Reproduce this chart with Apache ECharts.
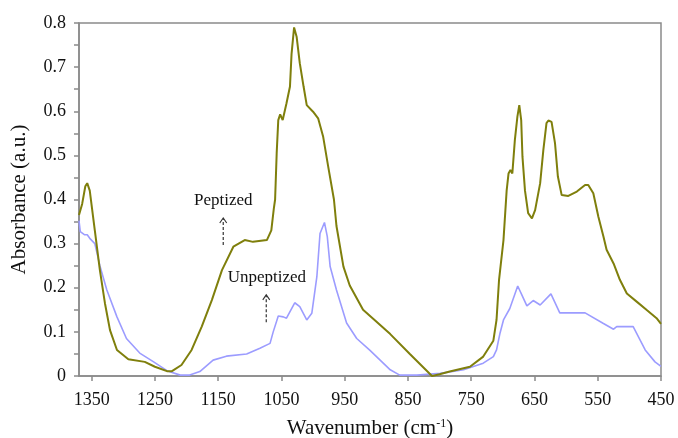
<!DOCTYPE html>
<html>
<head>
<meta charset="utf-8">
<script src="https://cdn.jsdelivr.net/npm/echarts@6/dist/echarts.min.js"></script>
<style>
  html, body { margin: 0; padding: 0; background: #fff; }
  #chart { width: 678px; height: 438px; }
</style>
</head>
<body>
<div id="chart"></div>
<script>
// FTIR absorbance spectra, wavenumber (cm-1) vs absorbance
const peptizedWn = [1370, 1365, 1360, 1357, 1353, 1345, 1337, 1329, 1321, 1310, 1292, 1266, 1250, 1231, 1223,
  1208, 1192, 1176, 1160, 1144, 1126, 1108, 1095, 1073, 1066, 1062, 1060, 1057.5, 1055, 1052, 1048, 1042,
  1036.5, 1034, 1030, 1026, 1021, 1015, 1010, 1000, 992, 984, 976, 967, 963, 952, 942, 921, 905, 878, 847,
  812, 800, 784, 752, 731, 715, 710, 706, 699, 694, 691, 688, 685, 681, 677, 674, 671, 669, 665, 660, 654,
  649, 641, 636, 631, 628, 623, 617.5, 613, 607, 596.5, 583, 570, 565, 557, 549, 541, 536, 525, 515, 504,
  488, 473, 457, 450];
const peptizedAbs = [0.365, 0.39, 0.43, 0.437, 0.42, 0.33, 0.24, 0.165, 0.104, 0.059, 0.038, 0.032, 0.021, 0.011, 0.011,
  0.025, 0.059, 0.112, 0.172, 0.24, 0.293, 0.308, 0.304, 0.308, 0.33, 0.38, 0.40, 0.505, 0.58, 0.593, 0.58, 0.618,
  0.656, 0.73, 0.79, 0.769, 0.709, 0.656, 0.614, 0.599, 0.584, 0.542, 0.474, 0.40, 0.34, 0.248, 0.205, 0.15, 0.13, 0.095, 0.05,
  0.0, 0.004, 0.01, 0.021, 0.044, 0.08, 0.127, 0.218, 0.308, 0.42, 0.459, 0.467, 0.459, 0.535, 0.588, 0.614, 0.58, 0.497, 0.42, 0.369, 0.357,
  0.376, 0.437, 0.512, 0.573, 0.579, 0.576, 0.527, 0.452, 0.41, 0.408, 0.418, 0.433, 0.433, 0.414, 0.361, 0.316, 0.286, 0.255, 0.218, 0.187,
  0.168, 0.15, 0.131, 0.118];

const unpeptizedWn = [1370, 1368, 1361, 1357, 1353, 1345, 1337, 1326, 1310, 1295, 1274, 1252, 1231, 1210, 1195,
  1179, 1158, 1137, 1105, 1084, 1068, 1063, 1055, 1047, 1042, 1029, 1021, 1010, 1002, 994, 989, 982, 977.5,
  973, 963, 947, 931, 910, 894, 878, 863, 836, 799, 762, 731, 715, 710, 704.5, 699, 689, 676.5, 670, 662,
  652, 641, 624, 610, 570, 541, 525, 520, 494, 475, 459.5, 450];
const unpeptizedAbs = [0.352, 0.327, 0.32, 0.32, 0.312, 0.30, 0.25, 0.195, 0.134, 0.085, 0.052, 0.032, 0.012, 0.002, 0.002,
  0.01, 0.036, 0.045, 0.05, 0.063, 0.074, 0.10, 0.136, 0.134, 0.131, 0.166, 0.157, 0.127, 0.142, 0.225, 0.323, 0.348, 0.316,
  0.248, 0.195, 0.12, 0.085, 0.058, 0.036, 0.014, 0.002, 0.002, 0.006, 0.014, 0.029, 0.044, 0.059, 0.097, 0.127, 0.153, 0.204, 0.184, 0.159,
  0.171, 0.161, 0.186, 0.143, 0.143, 0.119, 0.106, 0.112, 0.112, 0.059, 0.032, 0.022];

const xTicks = [1350, 1250, 1150, 1050, 950, 850, 750, 650, 550, 450];

// Annotation anchors in data coordinates: [wavenumber, absorbance]
const peptizedNote = { label: 'Peptized', text: [1142, 0.397], arrowFrom: [1142, 0.297], arrowTo: [1142, 0.358] };
const unpeptizedNote = { label: 'Unpeptized', text: [1073, 0.224], arrowFrom: [1074, 0.122], arrowTo: [1074, 0.184] };

const zip = (xs, ys) => xs.map((x, i) => [x, ys[i]]);
const serif = '"Liberation Serif", "Times New Roman", serif';
const axisGray = '#8a8a8a';

const chart = echarts.init(document.getElementById('chart'), null, { renderer: 'canvas' });

chart.setOption({
  animation: false,
  backgroundColor: '#ffffff',
  grid: {
    left: 79, right: 17, top: 23, bottom: 62,
    containLabel: false,
    outerBoundsMode: 'none',
    show: true, borderColor: axisGray, borderWidth: 1.5, backgroundColor: 'transparent'
  },
  xAxis: {
    type: 'value',
    inverse: true,
    min: 450,
    max: 1370,
    name: 'Wavenumber (cm{sup|-1})',
    nameLocation: 'middle',
    nameGap: 42,
    nameTextStyle: {
      fontFamily: serif, fontSize: 21, color: '#111',
      rich: { sup: { fontFamily: serif, fontSize: 12, color: '#111', verticalAlign: 'top', padding: [0, 0, 9, 0] } }
    },
    axisLine: { show: true, onZero: false, lineStyle: { color: axisGray, width: 1.5 } },
    axisTick: { show: true, length: 5, lineStyle: { color: axisGray, width: 1.5 }, customValues: xTicks },
    axisLabel: {
      fontFamily: serif, fontSize: 18, color: '#111', margin: 15,
      customValues: xTicks,
      formatter: v => String(Math.round(v))
    },
    splitLine: { show: false }
  },
  yAxis: {
    type: 'value',
    min: 0,
    max: 0.8,
    interval: 0.1,
    name: 'Absorbance (a.u.)',
    nameLocation: 'middle',
    nameGap: 49,
    nameTextStyle: { fontFamily: serif, fontSize: 21, color: '#111' },
    axisLine: { show: true, lineStyle: { color: axisGray, width: 1.5 } },
    axisTick: { show: true, length: 5, lineStyle: { color: axisGray, width: 1.5 } },
    minorTick: { show: true, splitNumber: 2, length: 5, lineStyle: { color: axisGray, width: 1.5 } },
    axisLabel: {
      fontFamily: serif, fontSize: 18, color: '#111', margin: 13,
      formatter: v => (Math.round(v * 10) / 10).toString()
    },
    splitLine: { show: false }
  },
  series: [
    {
      name: 'Unpeptized',
      type: 'line',
      data: zip(unpeptizedWn, unpeptizedAbs),
      showSymbol: false,
      lineStyle: { color: '#9c9cff', width: 1.6 },
      z: 2
    },
    {
      name: 'Peptized',
      type: 'line',
      data: zip(peptizedWn, peptizedAbs),
      showSymbol: false,
      lineStyle: { color: '#7f7f0c', width: 2 },
      z: 3
    }
  ]
});

// Labels with dashed pointer arrows, placed via the chart's own coordinate system
function noteGraphics(note) {
  const t = chart.convertToPixel({ gridIndex: 0 }, note.text);
  const a = chart.convertToPixel({ gridIndex: 0 }, note.arrowFrom);
  const b = chart.convertToPixel({ gridIndex: 0 }, note.arrowTo);
  const ink = '#333';
  return [
    {
      type: 'text',
      style: {
        text: note.label, x: t[0], y: t[1], align: 'center', verticalAlign: 'middle',
        fontFamily: serif, fontSize: 17, fill: '#111'
      },
      z: 10
    },
    {
      type: 'line',
      shape: { x1: a[0], y1: a[1], x2: b[0], y2: b[1] + 1 },
      style: { stroke: ink, lineWidth: 1.2, lineDash: [3, 2] },
      z: 10
    },
    {
      type: 'polyline',
      shape: { points: [[b[0] - 3.5, b[1] + 5], [b[0], b[1]], [b[0] + 3.5, b[1] + 5]] },
      style: { stroke: ink, lineWidth: 1.1, fill: null },
      z: 10
    }
  ];
}

chart.setOption({
  graphic: [...noteGraphics(peptizedNote), ...noteGraphics(unpeptizedNote)]
});
</script>
</body>
</html>
